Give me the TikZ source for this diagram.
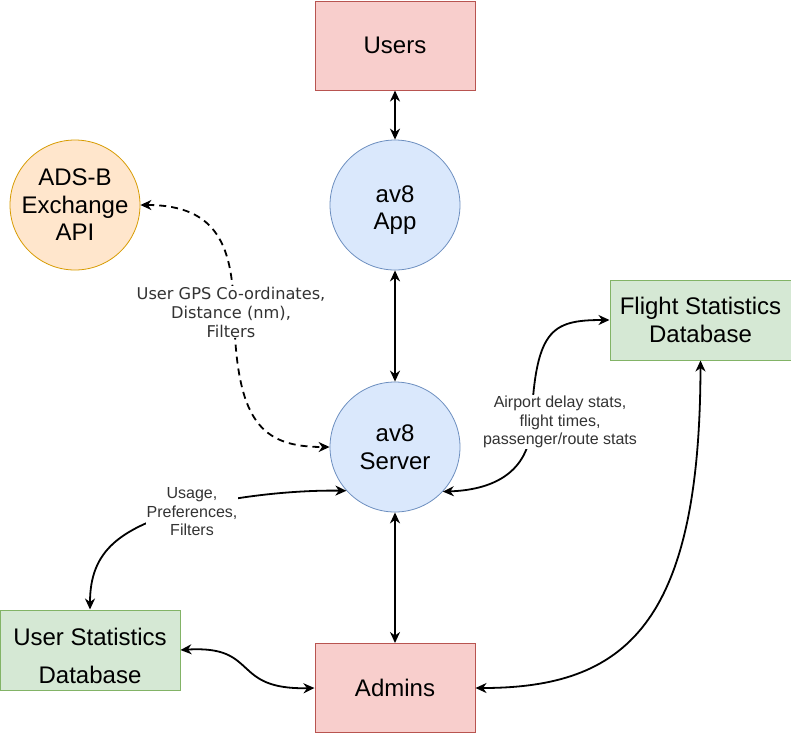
\documentclass[tikz,border=0pt]{standalone}
\usepackage{fontspec}
\setmainfont{Liberation Sans}
\newfontfamily\dejavu{DejaVu Sans}
\usetikzlibrary{arrows.meta}
\definecolor{redfill}{HTML}{F8CECC}
\definecolor{redline}{HTML}{B85450}
\definecolor{bluefill}{HTML}{DAE8FC}
\definecolor{blueline}{HTML}{6C8EBF}
\definecolor{orangefill}{HTML}{FFE6CC}
\definecolor{orangeline}{HTML}{D79B00}
\definecolor{greenfill}{HTML}{D5E8D4}
\definecolor{greenline}{HTML}{82B366}
\definecolor{labeltext}{HTML}{333333}
\begin{document}
\begin{tikzpicture}[x=1pt,y=-1pt,
  bigtext/.style={font=\fontsize{24}{27.6}\selectfont, align=center, inner sep=0pt},
  actorbox/.style={bigtext, draw=redline, fill=redfill, line width=1pt, minimum width=160pt, minimum height=89pt},
  procnode/.style={bigtext, circle, draw=blueline, fill=bluefill, line width=0.8pt, minimum size=130pt},
  extnode/.style={bigtext, circle, draw=orangeline, fill=orangefill, line width=0.8pt, minimum size=130pt},
  storebox/.style={bigtext, draw=greenline, fill=greenfill, line width=1pt, minimum height=80pt},
  flow/.style={line width=1.8pt, {Stealth[length=11pt,width=10pt,inset=3.5pt]}-{Stealth[length=11pt,width=10pt,inset=3.5pt]}},
  dashflow/.style={flow, dash pattern=on 7pt off 5pt},
  flowlabel/.style={fill=white, text=labeltext, align=center, inner sep=1pt, font=\fontsize{16}{18.5}\selectfont}
]
\useasboundingbox (0,0) rectangle (791,734);

\node[actorbox] (users) at (395,45.5) {Users};
\node[procnode] (app) at (395,205) {};
\node[bigtext, name=apptext] at (395,210) {av8\\App};
\node[procnode] (server) at (395,447) {av8\\Server};
\node[extnode] (adsb) at (75,205) {ADS-B\\Exchange\\API};
\node[storebox, minimum width=181pt] (flightdb) at (700.5,320) {Flight Statistics\\Database};
\node[storebox, minimum width=180pt] (userdb) at (90,650) {};
\node[bigtext, name=userdbtext] at (90,656) {User Statistics\\[10.4pt]Database};
\node[actorbox] (admins) at (395,688) {Admins};

\draw[flow] (users.south) -- (app.north);
\draw[flow] (app.south) -- (server.north);
\draw[flow] (server.south) -- (admins.north);

\draw[dashflow] (adsb.east) .. controls (220,205) and (232,250) .. (234,310)
  .. controls (236,420) and (260,447) .. (server.west);
\node[flowlabel, font=\dejavu\fontsize{16.2}{19}\selectfont] (gpslabel) at (231,312)
  {User GPS Co-ordinates,\\Distance (nm),\\Filters};

\draw[flow] (server.-43) .. controls (490,490) and (526,475) .. (531,430)
  .. controls (535,330) and (550,320) .. (flightdb.west);
\node[flowlabel] (airportlabel) at (560,422)
  {Airport delay stats,\\flight times,\\passenger/route stats};

\draw[flow] (userdb.north) .. controls (90,550) and (120,528) .. (190,508)
  .. controls (240,495) and (300,490) .. (server.-138);
\node[flowlabel] (usagelabel) at (192,512) {Usage,\\Preferences,\\Filters};

\draw[flow] (userdb.east) .. controls (260,645) and (230,690) .. (admins.west);
\draw[flow] (flightdb.south) .. controls (700,625) and (625,688) .. (admins.east);
\end{tikzpicture}
\end{document}
